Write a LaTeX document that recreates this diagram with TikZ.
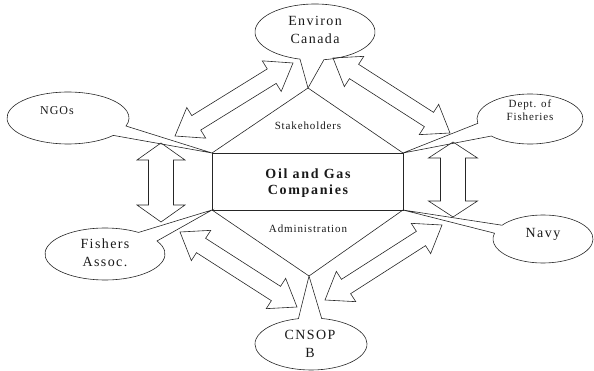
\documentclass[tikz,border=0pt]{standalone}
\usepackage{fontspec}
\setmainfont{Liberation Serif}
\usetikzlibrary{calc}
\newcommand\blockarrow[7]{%
  \pgfmathsetmacro\baang{atan2(#2-#4,#3-#1)}%
  \pgfmathsetmacro\balen{veclen(#3-#1,#4-#2)}%
  \begin{scope}[shift={(#1,#2)}, rotate=\baang]
    \draw[shp] (0,0) -- (#7,#6/2) -- (#7,#5/2) -- (\balen-#7,#5/2) -- (\balen-#7,#6/2)
      -- (\balen,0) -- (\balen-#7,-#6/2) -- (\balen-#7,-#5/2) -- (#7,-#5/2) -- (#7,-#6/2) -- cycle;
  \end{scope}}
\newcommand\callout[7]{%
  \draw[shp] ({#1+#3*cos(#5)},{#2+#4*sin(#5)})
    arc[start angle=#5, end angle=#6, x radius=#3, y radius=#4] -- (#7) -- cycle;}
\begin{document}
\begin{tikzpicture}[x=1pt,y=-1pt,
  shp/.style={draw=black!85, line width=0.6pt, line join=miter},
  lbl/.style={inner sep=0pt, align=center, text=black!90},
  big/.style={font={\fontsize{14}{18}\selectfont\addfontfeature{LetterSpace=10}}},
  mid/.style={font={\fontsize{12}{15}\selectfont\addfontfeature{LetterSpace=8}}},
  sml/.style={font={\fontsize{11}{13}\selectfont\addfontfeature{LetterSpace=8}}}]
\useasboundingbox (0,0) rectangle (594,371);
\coordinate (tl) at (212,153);
\coordinate (tr) at (403,153);
\coordinate (bl) at (212,210);
\coordinate (br) at (403,210);
\coordinate (top) at (308,88);
\coordinate (bot) at (309,276);
% hexagon and central box
\draw[shp] (tl) rectangle (br);
\draw[shp] (tl) -- (top) -- (tr);
\draw[shp] (bl) -- (bot) -- (br);
% callouts
\callout{315}{32}{60}{28}{104.5}{441.4}{top}
\callout{68}{118}{61}{26}{42}{378}{tl}
\callout{530}{119}{53}{25}{170}{497}{tr}
\callout{105}{254}{60}{26}{-30}{304}{bl}
\callout{543}{239}{50}{24}{215}{554}{br}
\callout{311}{344}{56}{26}{281}{617}{bot}
% block arrows
\blockarrow{161}{143}{161}{222}{25}{48}{17}
\blockarrow{453}{142}{453}{217}{25}{49}{16}
\blockarrow{175}{136}{293}{63}{17}{36}{25}
\blockarrow{333}{58}{450}{133}{17}{36}{25}
\blockarrow{180}{232}{297}{307}{17}{36}{25}
\blockarrow{325}{300}{442}{225}{17}{36}{25}
% texts
\node[lbl,big] (env) at (315,30) {Environ\\Canada};
\node[lbl,mid] (ngo) at (57,111) {NGOs};
\node[lbl,sml] (dept) at (530,110) {Dept. of\\Fisheries};
\node[lbl,big] (fish) at (105,253) {Fishers\\Assoc.};
\node[lbl,big] (navy) at (543,234) {Navy};
\node[lbl,big] (cnsop) at (310,344) {CNSOP\\B};
\node[lbl,font={\fontsize{14}{16}\selectfont\bfseries\addfontfeature{LetterSpace=12}}] (oil) at (308,183) {Oil and Gas\\Companies};
\node[lbl,sml] (stake) at (308,126) {Stakeholders};
\node[lbl,sml] (admin) at (308,229) {Administration};
\end{tikzpicture}
\end{document}
